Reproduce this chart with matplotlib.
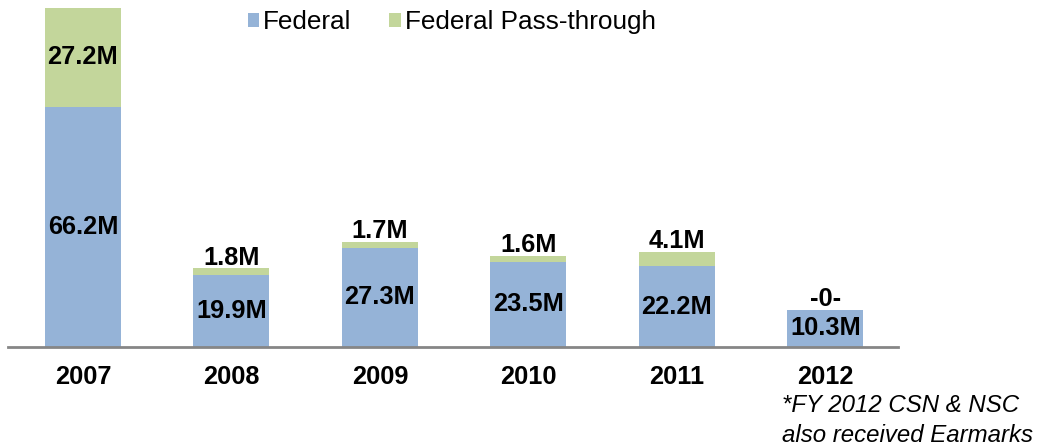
import matplotlib.pyplot as plt
import numpy as np

plt.rcParams['font.family'] = ['Liberation Sans', 'DejaVu Sans']

years = ['2007', '2008', '2009', '2010', '2011', '2012']
federal = [66.2, 19.9, 27.3, 23.5, 22.2, 10.3]
pass_through = [27.2, 1.8, 1.7, 1.6, 4.1, 0.0]
federal_labels = ['66.2M', '19.9M', '27.3M', '23.5M', '22.2M', '10.3M']
pass_labels = ['27.2M', '1.8M', '1.7M', '1.6M', '4.1M', '-0-']

c_fed = '#95b3d7'
c_pass = '#c3d69b'

fig = plt.figure(figsize=(10.38, 4.48), dpi=100)
ax = fig.add_axes([8 / 1038, 101 / 448, 890 / 1038, 339 / 448])

x = np.arange(len(years))
w = 0.512
ax.bar(x, federal, w, color=c_fed, label='Federal')
ax.bar(x, pass_through, w, bottom=federal, color=c_pass, label='Federal Pass-through')

fs = 18.3
for i in range(len(years)):
    ax.text(x[i], federal[i] / 2, federal_labels[i], ha='center', va='center',
            fontsize=fs, fontweight='bold')
    if i == 0:
        ax.text(x[i], federal[i] + pass_through[i] / 2, pass_labels[i],
                ha='center', va='center', fontsize=fs, fontweight='bold')
    else:
        ax.annotate(pass_labels[i], (x[i], federal[i] + pass_through[i]),
                    xytext=(0, -1), textcoords='offset points',
                    ha='center', va='bottom', fontsize=fs, fontweight='bold')

ax.set_xlim(-0.505, 5.49)
ax.set_ylim(0, 93.4)
ax.set_xticks(x)
ax.set_xticklabels(years, fontsize=18.3, fontweight='bold')
ax.tick_params(axis='x', length=0, pad=13)
ax.set_yticks([])
for s in ['top', 'right', 'left']:
    ax.spines[s].set_visible(False)
ax.spines['bottom'].set_color('#868686')
ax.spines['bottom'].set_linewidth(2)

ax.legend(loc='upper left', bbox_to_anchor=(216 / 890, 1.062), ncol=2, frameon=False,
          fontsize=18.8, handlelength=0.45, handleheight=0.45, handletextpad=0.15,
          columnspacing=1.45)

fig.text(782 / 1038, 1 - 405 / 448, '*FY 2012 CSN & NSC', fontsize=17.3,
         style='italic', va='center', ha='left')
fig.text(782 / 1038, 1 - 435 / 448, 'also received Earmarks', fontsize=17.3,
         style='italic', va='center', ha='left')

fig.savefig('out.png', dpi=100)
